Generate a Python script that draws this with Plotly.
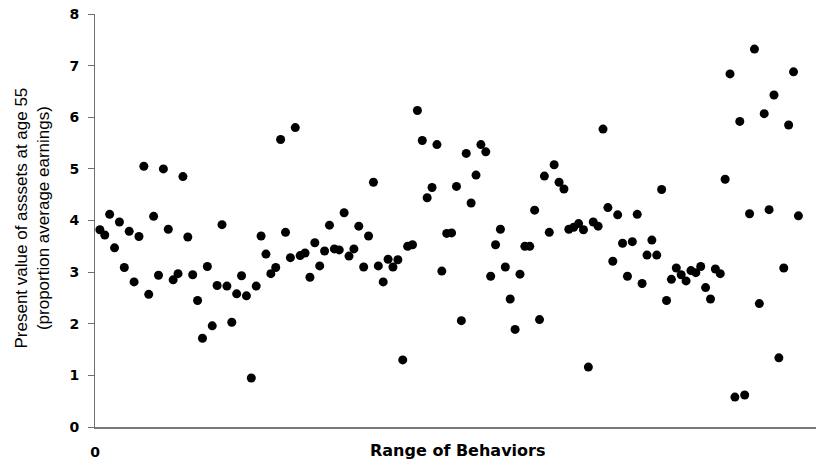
import plotly.graph_objects as go

# Present value of assets at age 55 (proportion of average earnings), one point per behavior
asset_values = [
    3.82, 3.72, 4.12, 3.47, 3.97, 3.09, 3.79, 2.81, 3.69, 5.05,
    2.57, 4.08, 2.94, 5.00, 3.83, 2.85, 2.97, 4.85, 3.68, 2.95,
    2.45, 1.72, 3.11, 1.96, 2.74, 3.92, 2.73, 2.03, 2.58, 2.93,
    2.54, 0.95, 2.73, 3.70, 3.35, 2.97, 3.09, 5.57, 3.77, 3.28,
    5.80, 3.32, 3.37, 2.90, 3.57, 3.12, 3.41, 3.91, 3.45, 3.43,
    4.15, 3.31, 3.45, 3.89, 3.10, 3.70, 4.74, 3.12, 2.81, 3.25,
    3.10, 3.24, 1.30, 3.50, 3.53, 6.13, 5.55, 4.44, 4.64, 5.47,
    3.02, 3.75, 3.76, 4.66, 2.06, 5.30, 4.34, 4.88, 5.47, 5.33,
    2.92, 3.53, 3.83, 3.10, 2.48, 1.89, 2.96, 3.50, 3.50, 4.20,
    2.08, 4.86, 3.77, 5.08, 4.74, 4.61, 3.83, 3.87, 3.94, 3.82,
    1.16, 3.97, 3.89, 5.77, 4.25, 3.21, 4.11, 3.56, 2.92, 3.59,
    4.12, 2.78, 3.33, 3.62, 3.33, 4.60, 2.45, 2.86, 3.08, 2.95,
    2.83, 3.03, 2.99, 3.11, 2.70, 2.48, 3.06, 2.97, 4.80, 6.84,
    0.58, 5.92, 0.62, 4.13, 7.32, 2.39, 6.07, 4.21, 6.43, 1.34,
    3.08, 5.85, 6.88, 4.09,
]
behavior_index = list(range(1, len(asset_values) + 1))

y_tick_vals = [0, 1, 2, 3, 4, 5, 6, 7, 8]
y_tick_text = ["0", "1", "2", "3", "4", "5", "6", "7", "8"]
x_tick_vals = [0]
x_tick_text = ["0"]

x_title = "Range of Behaviors"
y_title = "Present value of asssets at age 55<br>(proportion average earnings)"

fig = go.Figure()
fig.add_trace(go.Scatter(
    x=behavior_index,
    y=asset_values,
    mode="markers",
    marker=dict(color="black", size=9, line=dict(width=0)),
    showlegend=False,
    hoverinfo="x+y",
))

tick_font = dict(family="DejaVu Sans", size=14, color="black")

fig.update_layout(
    width=816,
    height=461,
    autosize=False,
    margin=dict(l=95, r=0, t=14, b=34, autoexpand=False),
    paper_bgcolor="white",
    plot_bgcolor="white",
    font=dict(family="DejaVu Sans", color="black"),
    xaxis=dict(
        range=[0, 147.6],
        showgrid=False,
        zeroline=False,
        showline=True,
        linecolor="#777777",
        linewidth=1.5,
        tickvals=x_tick_vals,
        ticktext=["<b>%s</b>" % t for t in x_tick_text],
        ticks="",
        ticklabelstandoff=11,
        tickfont=tick_font,
    ),
    yaxis=dict(
        range=[0, 8],
        showgrid=False,
        zeroline=False,
        showline=True,
        linecolor="#6e6e6e",
        linewidth=1,
        tickvals=y_tick_vals,
        ticktext=["<b>%s</b>" % t for t in y_tick_text],
        ticks="outside",
        ticklen=6,
        tickcolor="#6e6e6e",
        ticklabelstandoff=6,
        ticklabeloverflow="allow",
        tickfont=tick_font,
    ),
    annotations=[
        dict(
            text="<b>%s</b>" % x_title, xref="paper", yref="paper", x=0.5, y=0,
            xanchor="center", yanchor="middle", xshift=2, yshift=-23,
            showarrow=False,
            font=dict(family="DejaVu Sans", size=16, color="black"),
        ),
        dict(
            text=y_title, xref="paper", yref="paper", x=0, y=0.5,
            xanchor="center", yanchor="middle", xshift=-63, yshift=2,
            textangle=-90, showarrow=False,
            font=dict(family="Liberation Sans", size=17, color="black"),
        ),
    ],
)

# remove the browser's default 8px body margin so the figure fills the window
fig.write_html(
    "out.html",
    config={"displayModeBar": False},
    post_script="document.body.style.margin='0';",
)
